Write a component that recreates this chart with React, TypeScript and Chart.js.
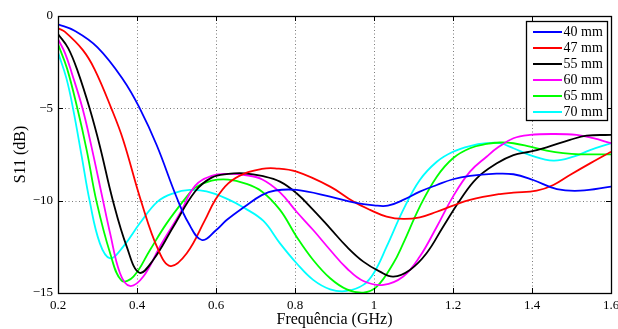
import React, { useEffect, useRef } from "react";
import { Chart, registerables } from "chart.js";

Chart.register(...registerables);

// ---- data (frequency in GHz, S11 in dB) ----
const seriesLabels = ["40 mm", "47 mm", "55 mm", "60 mm", "65 mm", "70 mm"];

const freq40 = [0.2, 0.242, 0.3, 0.365, 0.407, 0.45, 0.5, 0.53, 0.564, 0.6, 0.627, 0.673, 0.716, 0.75, 0.804, 0.889, 0.948, 1.0, 1.035, 1.074, 1.116, 1.159, 1.2, 1.243, 1.3, 1.353, 1.403, 1.463, 1.522, 1.6];
const s11_40 = [-0.45, -0.8, -1.7, -3.45, -5.0, -7.0, -9.8, -11.2, -12.13, -11.6, -11.05, -10.32, -9.7, -9.45, -9.42, -9.78, -10.09, -10.25, -10.27, -9.96, -9.51, -9.15, -8.84, -8.66, -8.55, -8.57, -8.88, -9.37, -9.46, -9.24];

const freq47 = [0.2, 0.217, 0.263, 0.293, 0.335, 0.365, 0.41, 0.454, 0.485, 0.526, 0.572, 0.597, 0.631, 0.673, 0.716, 0.749, 0.804, 0.889, 0.948, 0.99, 1.032, 1.074, 1.116, 1.159, 1.2, 1.243, 1.319, 1.353, 1.412, 1.454, 1.496, 1.547, 1.6];
const s11_47 = [-0.67, -0.85, -1.85, -2.9, -5.0, -6.71, -10.0, -12.67, -13.54, -12.85, -11.05, -10.0, -9.06, -8.52, -8.28, -8.25, -8.43, -9.24, -10.05, -10.5, -10.86, -10.99, -10.9, -10.6, -10.27, -9.96, -9.64, -9.57, -9.46, -9.15, -8.61, -7.98, -7.35];

const freq55 = [0.2, 0.226, 0.25, 0.28, 0.306, 0.339, 0.374, 0.406, 0.441, 0.492, 0.547, 0.589, 0.631, 0.673, 0.716, 0.762, 0.804, 0.846, 0.889, 0.931, 0.973, 1.015, 1.049, 1.091, 1.133, 1.175, 1.218, 1.26, 1.311, 1.353, 1.395, 1.437, 1.496, 1.538, 1.6];
const s11_55 = [-0.97, -1.75, -3.0, -5.0, -7.05, -10.0, -12.49, -13.9, -13.21, -11.41, -9.5, -8.75, -8.55, -8.52, -8.66, -8.97, -9.6, -10.5, -11.5, -12.49, -13.3, -13.84, -14.11, -13.75, -12.85, -11.41, -9.96, -8.79, -7.98, -7.53, -7.35, -7.11, -6.71, -6.48, -6.44];

const freq60 = [0.2, 0.218, 0.235, 0.262, 0.285, 0.314, 0.332, 0.357, 0.382, 0.416, 0.458, 0.509, 0.547, 0.589, 0.631, 0.673, 0.716, 0.762, 0.804, 0.846, 0.889, 0.931, 0.973, 1.024, 1.074, 1.116, 1.159, 1.2, 1.243, 1.285, 1.315, 1.353, 1.395, 1.454, 1.513, 1.555, 1.6];
const s11_60 = [-1.25, -2.02, -3.1, -5.0, -7.1, -10.0, -11.77, -13.93, -14.62, -14.11, -12.49, -10.68, -9.2, -8.66, -8.55, -8.61, -8.84, -9.55, -10.6, -11.59, -12.67, -13.66, -14.35, -14.56, -14.11, -13.03, -11.41, -9.78, -8.43, -7.62, -7.1, -6.62, -6.44, -6.39, -6.44, -6.62, -6.89];

const freq65 = [0.2, 0.223, 0.249, 0.273, 0.297, 0.332, 0.361, 0.391, 0.433, 0.475, 0.526, 0.547, 0.589, 0.631, 0.673, 0.716, 0.762, 0.804, 0.846, 0.889, 0.931, 0.973, 1.007, 1.049, 1.074, 1.116, 1.159, 1.2, 1.243, 1.285, 1.319, 1.353, 1.395, 1.437, 1.479, 1.522, 1.6];
const s11_65 = [-1.52, -2.85, -5.0, -7.3, -10.0, -12.85, -14.33, -14.11, -12.67, -11.23, -9.78, -9.3, -8.92, -8.86, -9.06, -9.5, -10.5, -11.95, -13.21, -14.2, -14.8, -14.98, -14.66, -13.39, -12.31, -10.32, -8.7, -7.7, -7.16, -6.93, -6.85, -6.89, -7.08, -7.29, -7.43, -7.49, -7.49];

const freq70 = [0.2, 0.221, 0.238, 0.26, 0.28, 0.306, 0.332, 0.365, 0.408, 0.452, 0.492, 0.534, 0.576, 0.631, 0.673, 0.72, 0.762, 0.804, 0.846, 0.889, 0.931, 0.973, 1.0, 1.032, 1.074, 1.116, 1.159, 1.2, 1.243, 1.285, 1.319, 1.353, 1.395, 1.454, 1.505, 1.547, 1.6];
const s11_70 = [-1.97, -3.35, -5.0, -7.6, -10.0, -12.31, -13.12, -12.49, -11.2, -10.05, -9.6, -9.42, -9.5, -9.93, -10.41, -11.1, -12.31, -13.39, -14.29, -14.8, -14.89, -14.56, -13.9, -12.49, -10.5, -8.88, -7.89, -7.35, -7.04, -6.89, -6.89, -7.16, -7.53, -7.83, -7.62, -7.26, -6.89];

const xTicks = [0.2, 0.4, 0.6, 0.8, 1.0, 1.2, 1.4, 1.6];
const yTicks = [0, -5, -10, -15];

const seriesFreqs = [freq40, freq47, freq55, freq60, freq65, freq70];
const seriesValues = [s11_40, s11_47, s11_55, s11_60, s11_65, s11_70];
const seriesColors = ["#0000ff", "#ff0000", "#000000", "#ff00ff", "#00ff00", "#00ffff"];

const FONT = "'Liberation Serif', 'DejaVu Serif', serif";

const fmt = (v: number) => {
  const s = String(Number(v.toFixed(2)));
  return s.replace("-", "\u2212");
};

const gridPlugin = {
  id: "dottedGrid",
  beforeDatasetsDraw(chart: any) {
    const { ctx, chartArea: a, scales } = chart;
    ctx.save();
    ctx.strokeStyle = "#7a7a7a";
    ctx.lineWidth = 1;
    ctx.setLineDash([1, 2.5]);
    ctx.beginPath();
    for (const t of scales.x.ticks) {
      const px = Math.round(scales.x.getPixelForValue(t.value)) + 0.5;
      if (px <= a.left + 1 || px >= a.right - 1) continue;
      ctx.moveTo(px, a.top);
      ctx.lineTo(px, a.bottom);
    }
    for (const t of scales.y.ticks) {
      const py = Math.round(scales.y.getPixelForValue(t.value)) + 0.5;
      if (py <= a.top + 1 || py >= a.bottom - 1) continue;
      ctx.moveTo(a.left, py);
      ctx.lineTo(a.right, py);
    }
    ctx.stroke();
    ctx.restore();
  },
};

const framePlugin = {
  id: "matlabFrame",
  afterDraw(chart: any) {
    const { ctx, chartArea: a, scales } = chart;
    ctx.save();
    ctx.strokeStyle = "#000";
    ctx.lineWidth = 1;
    const tl = 5;
    ctx.beginPath();
    for (const t of scales.x.ticks) {
      const px = Math.round(scales.x.getPixelForValue(t.value)) + 0.5;
      ctx.moveTo(px, a.bottom);
      ctx.lineTo(px, a.bottom - tl);
      ctx.moveTo(px, a.top);
      ctx.lineTo(px, a.top + tl);
    }
    for (const t of scales.y.ticks) {
      const py = Math.round(scales.y.getPixelForValue(t.value)) + 0.5;
      ctx.moveTo(a.left, py);
      ctx.lineTo(a.left + tl, py);
      ctx.moveTo(a.right, py);
      ctx.lineTo(a.right - tl, py);
    }
    ctx.stroke();
    ctx.lineWidth = 1.3;
    ctx.strokeRect(Math.round(a.left) + 0.5, Math.round(a.top) + 0.5, Math.round(a.right - a.left), Math.round(a.bottom - a.top));

    // legend box
    const w = 81;
    const h = 99;
    const lx = Math.round(a.right - 4 - w) + 0.5;
    const ly = Math.round(a.top + 4.5) + 0.5;
    ctx.fillStyle = "#fff";
    ctx.fillRect(lx, ly, w, h);
    ctx.lineWidth = 1.3;
    ctx.strokeStyle = "#000";
    ctx.strokeRect(lx, ly, w, h);
    ctx.font = `14px ${FONT}`;
    ctx.textBaseline = "middle";
    ctx.textAlign = "left";
    chart.data.datasets.forEach((ds: any, i: number) => {
      const cy = ly + 10.5 + 16 * i;
      ctx.strokeStyle = ds.borderColor;
      ctx.lineWidth = 2;
      ctx.beginPath();
      ctx.moveTo(lx + 6.5, cy);
      ctx.lineTo(lx + 35.5, cy);
      ctx.stroke();
      ctx.fillStyle = "#000";
      ctx.fillText(ds.label, lx + 37, cy + 0.5);
    });
    ctx.restore();
  },
};

export default function App() {
  const ref = useRef<HTMLCanvasElement | null>(null);

  useEffect(() => {
    if (!ref.current) return;
    const datasets = seriesLabels.map((label, i) => ({
      label,
      data: seriesFreqs[i].map((f, j) => ({ x: f, y: seriesValues[i][j] })),
      borderColor: seriesColors[i],
      backgroundColor: seriesColors[i],
      borderWidth: 1.8,
      pointRadius: 0,
      fill: false,
      tension: 0.4,
    }));

    const chart = new Chart(ref.current, {
      type: "line",
      data: { datasets },
      plugins: [gridPlugin, framePlugin],
      options: {
        responsive: false,
        animation: false,
        layout: { padding: { left: 0, top: 16, right: 7, bottom: 0 } },
        plugins: {
          legend: { display: false },
          tooltip: { enabled: false },
        },
        scales: {
          x: {
            type: "linear",
            min: xTicks[0],
            max: xTicks[xTicks.length - 1],
            afterBuildTicks: (s: any) => {
              s.ticks = xTicks.map((v) => ({ value: v }));
            },
            afterFit: (s: any) => {
              s.height = 36;
              s.paddingLeft = 0;
              s.paddingRight = 0;
            },
            grid: { display: false, drawTicks: false },
            border: { display: false },
            ticks: {
              padding: 5,
              color: "#000",
              font: { family: FONT, size: 13 },
              maxRotation: 0,
              callback: (v: any) => fmt(Number(v)),
            },
            title: {
              display: true,
              text: "Frequência (GHz)",
              color: "#000",
              font: { family: FONT, size: 16 },
              padding: { top: 0, bottom: 0 },
            },
          },
          y: {
            type: "linear",
            min: yTicks[yTicks.length - 1],
            max: yTicks[0],
            afterBuildTicks: (s: any) => {
              s.ticks = yTicks.slice().reverse().map((v) => ({ value: v }));
            },
            afterFit: (s: any) => {
              s.width = 58;
              s.paddingTop = 0;
              s.paddingBottom = 0;
            },
            grid: { display: false, drawTicks: false },
            border: { display: false },
            ticks: {
              padding: 5,
              color: "#000",
              font: { family: FONT, size: 13 },
              callback: (v: any) => fmt(Number(v)),
            },
            title: {
              display: true,
              text: "S11 (dB)",
              color: "#000",
              font: { family: FONT, size: 16 },
              padding: { top: 11, bottom: 0 },
            },
          },
        },
      },
    });
    return () => chart.destroy();
  }, []);

  return (
    <div style={{ position: "fixed", left: 0, top: 0, width: 618, height: 329, background: "#fff" }}>
      <canvas ref={ref} width={618} height={329} style={{ display: "block" }} />
    </div>
  );
}
